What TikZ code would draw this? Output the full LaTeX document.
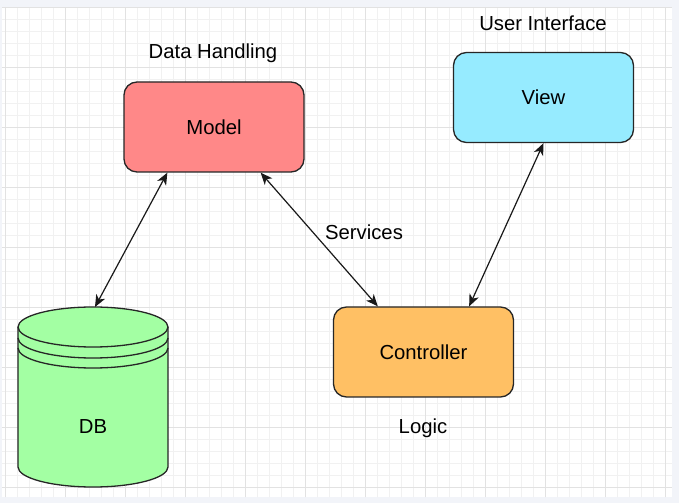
\documentclass[tikz,border=0pt]{standalone}
\usepackage{fontspec}
\setmainfont{Liberation Sans}
\usepackage{tikz}
\usetikzlibrary{arrows.meta}
\definecolor{modelred}{RGB}{255, 136, 136}
\definecolor{viewblue}{RGB}{150, 235, 255}
\definecolor{ctrlorange}{RGB}{255, 192, 100}
\definecolor{dbgreen}{RGB}{163, 255, 163}
\definecolor{gridminor}{RGB}{241, 241, 241}
\definecolor{gridmajor}{RGB}{226, 226, 226}
\definecolor{pagebg}{RGB}{242, 244, 249}
\tikzset{
    block/.style={draw=black!85, line width=1.3pt, rounded corners=13pt,
        minimum width=180pt, minimum height=90pt},
    link/.style={<->, line width=1.2pt, draw=black!90,
        >={Stealth[length=12pt, width=10pt, inset=3.5pt]}},
}

\begin{document}
\begin{tikzpicture}[x=1pt, y=1pt, font=\fontsize{20.3}{24}\selectfont]
    \useasboundingbox (0,0) rectangle (679,503);
    \fill[pagebg] (0,0) rectangle (679,503);
    \fill[white] (2,6) rectangle (672,496);
    % grid
    \foreach \x in {5,17,...,665}
        \draw[gridminor, line width=0.8pt] (\x,6) -- (\x,496);
    \foreach \y in {496,484,...,16}
        \draw[gridminor, line width=0.8pt] (2,\y) -- (672,\y);
    \foreach \x in {5,65,...,665}
        \draw[gridmajor, line width=0.8pt] (\x,6) -- (\x,496);
    \foreach \y in {496,436,...,16}
        \draw[gridmajor, line width=0.8pt] (2,\y) -- (672,\y);

    % database
    \filldraw[fill=dbgreen, draw=black!85, line width=1.3pt]
        (18,176) -- (18,36) arc[start angle=180, end angle=360, x radius=75, y radius=20]
        -- (168,176) arc[start angle=0, end angle=180, x radius=75, y radius=20] -- cycle;
    \foreach \y in {176,165,155}
        \draw[black!85, line width=1.3pt]
            (18,\y) arc[start angle=180, end angle=360, x radius=75, y radius=20];
    \node (db) at (93,76) {DB};
    \coordinate (dbtop) at (95,196);

    \node (model) [block, fill=modelred] at (214,376) {Model};
    \node (view) [block, fill=viewblue] at (543.5,405.5) {View};
    \node (controller) [block, fill=ctrlorange] at (423.5,151) {Controller};

    \node (datalabel) at (213,450) {Data Handling};
    \node (uilabel) at (543,480) {User Interface};
    \node (servlabel) at (364,271) {Services};
    \node (logiclabel) at (423,75) {Logic};

    \draw[link] ([xshift=44pt]model.south west) -- (dbtop);
    \draw[link] ([xshift=-44pt]model.south east) -- ([xshift=45pt]controller.north west);
    \draw[link] (view.south) -- ([xshift=-45pt]controller.north east);
\end{tikzpicture}
\end{document}
